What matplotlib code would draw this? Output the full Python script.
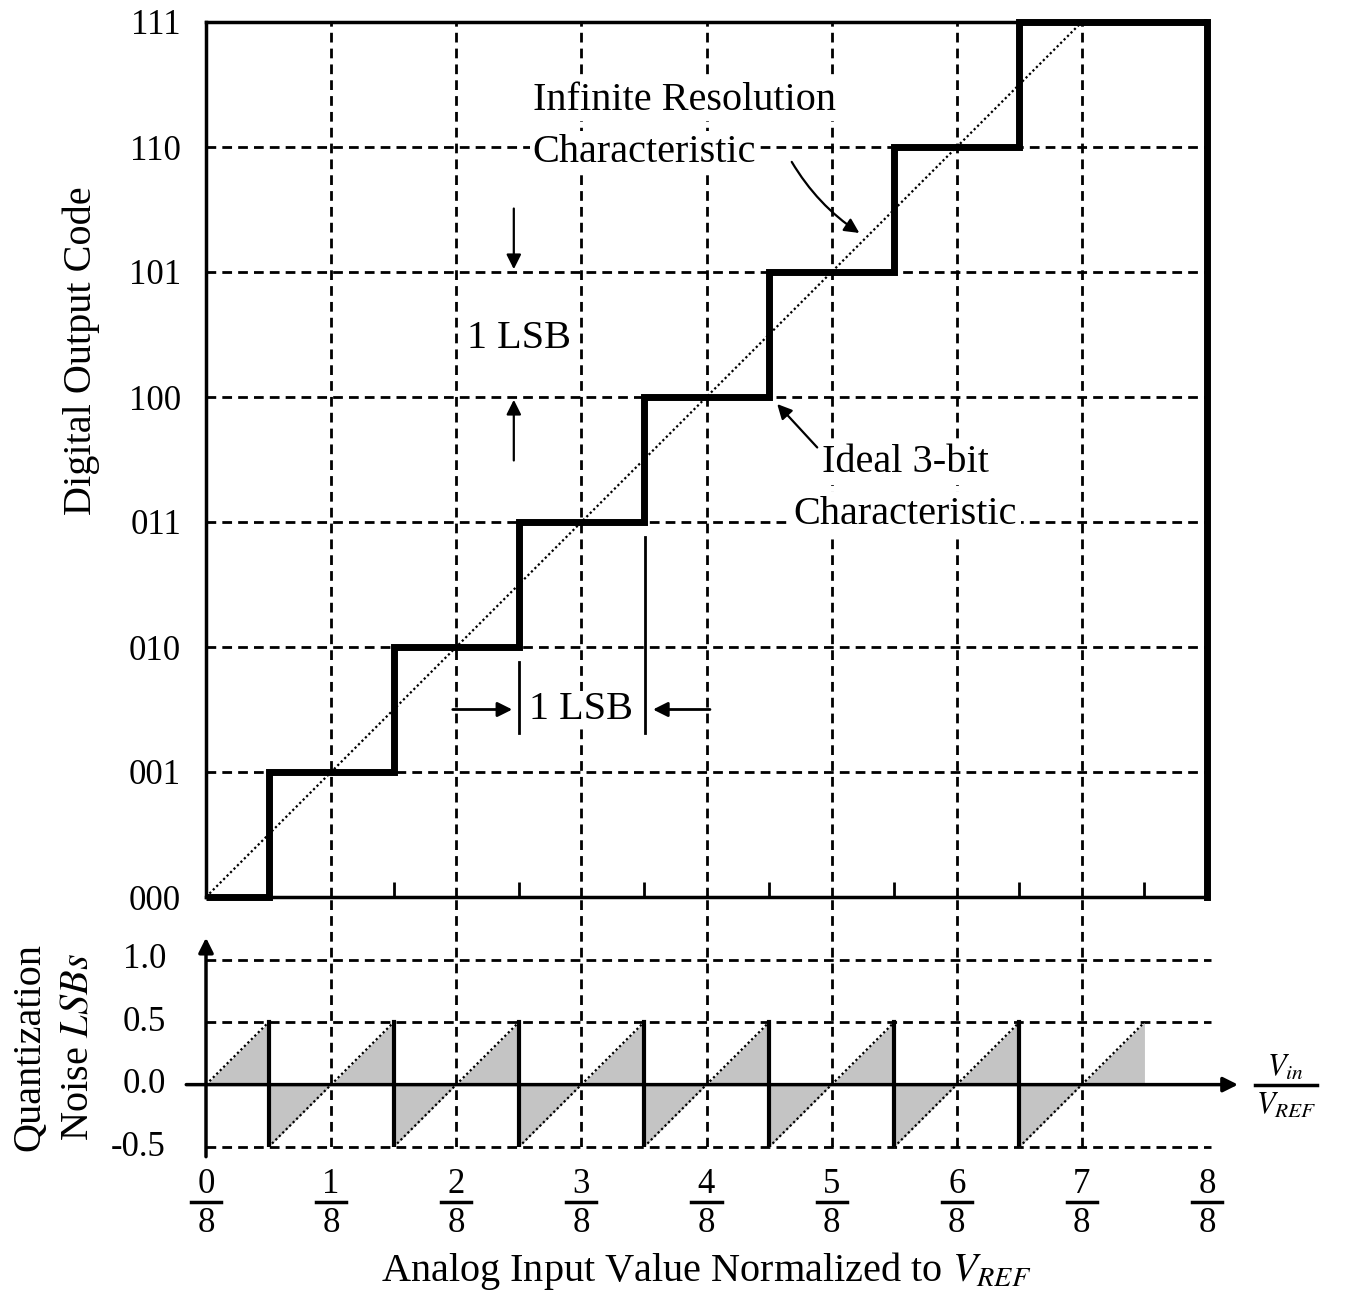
import numpy as np
import matplotlib
matplotlib.use('Agg')
import matplotlib.pyplot as plt

plt.rcParams['font.family'] = ['Liberation Serif', 'DejaVu Serif']
plt.rcParams['mathtext.fontset'] = 'stix'

# data (x in units of 1/8 of V_REF)
codes = ['000', '001', '010', '011', '100', '101', '110', '111']
step_edges = [0, 0.5, 1.5, 2.5, 3.5, 4.5, 5.5, 6.5, 8]
step_codes = [0, 1, 2, 3, 4, 5, 6, 7]
ideal_x = [0, 7]
ideal_y = [0, 7]
noise_x = [0, 0.5, 0.5, 1.5, 1.5, 2.5, 2.5, 3.5, 3.5, 4.5, 4.5, 5.5, 5.5, 6.5, 6.5, 7.5]
noise_y = [0, 0.5, -0.5, 0.5, -0.5, 0.5, -0.5, 0.5, -0.5, 0.5, -0.5, 0.5, -0.5, 0.5, -0.5, 0.5]
noise_ticks = [1.0, 0.5, 0.0, -0.5]
frac_num = [0, 1, 2, 3, 4, 5, 6, 7, 8]

W, H = 1357, 1295
fig = plt.figure(figsize=(W / 100, H / 100), dpi=100)
ax = fig.add_axes([206 / W, 1 - 897 / H, 1001 / W, 875 / H])
ax2 = fig.add_axes([206 / W, 1 - 1147 / H, 1001 / W, 250 / H])

grid = dict(color='k', lw=2, linestyle=(0, (3.5, 2.2)))
fs = 25   # tick digits
lfs = 29  # words
arr = dict(arrowstyle='-|>', lw=1.6, color='k', mutation_scale=22)

# ---- top panel
ax.set_xlim(0, 8)
ax.set_ylim(0, 7)
for y in range(1, 7):
    ax.plot([0, 8], [y, y], zorder=1, **grid)
for x in range(1, 8):
    ax.plot([x, x], [0, 7], zorder=1, **grid)
ax.vlines(np.arange(1.5, 8, 1.0), 0, 0.12, color='k', lw=2, zorder=2)
ax.plot(ideal_x, ideal_y, color='k', lw=1.6, linestyle=(0, (1, 1.2)), zorder=3)
ax.stairs(step_codes, step_edges, baseline=None, color='k', lw=5, zorder=4, clip_on=False)

for s in ['left', 'bottom', 'top']:
    ax.spines[s].set_linewidth(2.5)
ax.spines['right'].set_linewidth(5)
ax.set_xticks([])
ax.set_yticks(range(8))
ax.set_yticklabels(codes, fontsize=fs)
ax.tick_params(axis='y', length=0, pad=18)
ax.text(-1.0, 4.37, 'Digital Output Code', rotation=90, ha='center', va='center', fontsize=lfs)

# annotations
ax.text(2.61, 6.376, 'Infinite Resolution', ha='left', va='center', fontsize=lfs, zorder=5,
        bbox=dict(fc='white', ec='none', pad=2))
ax.text(2.61, 5.96, 'Characteristic', ha='left', va='center', fontsize=lfs, zorder=5,
        bbox=dict(fc='white', ec='none', pad=2))
ax.annotate('', xy=(5.24, 5.3), xytext=(4.67, 5.9),
            arrowprops=dict(arr, connectionstyle='arc3,rad=0.12'), zorder=6)
ax.text(5.59, 3.48, 'Ideal 3-bit', ha='center', va='center', fontsize=lfs,
        zorder=5, bbox=dict(fc='white', ec='none', pad=3))
ax.text(5.59, 3.056, 'Characteristic', ha='center', va='center', fontsize=lfs,
        zorder=5, bbox=dict(fc='white', ec='none', pad=3))
ax.annotate('', xy=(4.55, 3.96), xytext=(4.9, 3.58), arrowprops=arr, zorder=6)

ax.text(2.5, 4.47, '1 LSB', ha='center', va='center', fontsize=lfs)
ax.annotate('', xy=(2.46, 5.0), xytext=(2.46, 5.53), arrowprops=arr)
ax.annotate('', xy=(2.46, 4.0), xytext=(2.46, 3.47), arrowprops=arr)

ax.text(3.0, 1.5, '1 LSB', ha='center', va='center', fontsize=lfs, zorder=5,
        bbox=dict(fc='white', ec='none', pad=0))
ax.plot([2.5, 2.5], [1.31, 1.88], color='k', lw=2, zorder=6)
ax.plot([3.51, 3.51], [1.31, 2.88], color='k', lw=2, zorder=6)
ax.annotate('', xy=(2.47, 1.5), xytext=(1.95, 1.5), arrowprops=dict(arr, lw=2), zorder=6)
ax.annotate('', xy=(3.55, 1.5), xytext=(4.05, 1.5), arrowprops=dict(arr, lw=2), zorder=6)

# ---- bottom panel
ax2.set_xlim(0, 8)
ax2.set_ylim(-0.5, 1.504)
ax2.set_axis_off()
for y in [1.0, 0.5, -0.5]:
    ax2.plot([0, 8.03], [y, y], zorder=1, clip_on=False, **grid)
for x in range(1, 8):
    ax2.plot([x, x], [-0.5, 1.504], zorder=1, **grid)

nx = np.array(noise_x)
ny = np.array(noise_y)
for i in range(0, len(nx), 2):
    ax2.fill_between(nx[i:i + 2], ny[i:i + 2], 0, color='#c4c4c4', lw=0, zorder=2)
    ax2.plot(nx[i:i + 2], ny[i:i + 2], color='k', lw=1.6, linestyle=(0, (1, 1.2)), zorder=3)
for i in range(1, len(nx) - 1, 2):
    ax2.plot(nx[i:i + 2], ny[i:i + 2], color='k', lw=3, zorder=4)

ax2.annotate('', xy=(8.27, 0), xytext=(-0.18, 0), annotation_clip=False,
             arrowprops=dict(arr, lw=2.5), zorder=5)
ax2.annotate('', xy=(0, 1.2), xytext=(0, -0.6), annotation_clip=False,
             arrowprops=dict(arr, lw=2.5), zorder=5)

for v in noise_ticks:
    ax2.text(-0.32, v, '%.1f' % v, ha='right', va='center', fontsize=fs)

ax2.text(-1.41, 0.3, 'Quantization', rotation=90, ha='center', va='center', fontsize=lfs)
ax2.text(-1.02, 0.3, 'Noise $LSBs$', rotation=90, ha='center', va='center', fontsize=lfs)

for k in frac_num:
    ax2.text(k, -0.8, str(k), ha='center', va='center', fontsize=fs, clip_on=False)
    ax2.plot([k - 0.12, k + 0.12], [-0.944, -0.944], color='k', lw=2.5, clip_on=False)
    ax2.text(k, -1.11, '8', ha='center', va='center', fontsize=fs, clip_on=False)

ax2.text(4.0, -1.49, r'Analog Input Value Normalized to $V_{REF}$', ha='center', va='center',
         fontsize=lfs)

ax2.text(8.63, 0.13, r'$V_{in}$', ha='center', va='center', fontsize=22)
ax2.plot([8.38, 8.88], [0.0, 0.0], color='k', lw=2.5, clip_on=False)
ax2.text(8.63, -0.17, r'$V_{REF}$', ha='center', va='center', fontsize=22)

fig.savefig('out.png', dpi=100, facecolor='white')
